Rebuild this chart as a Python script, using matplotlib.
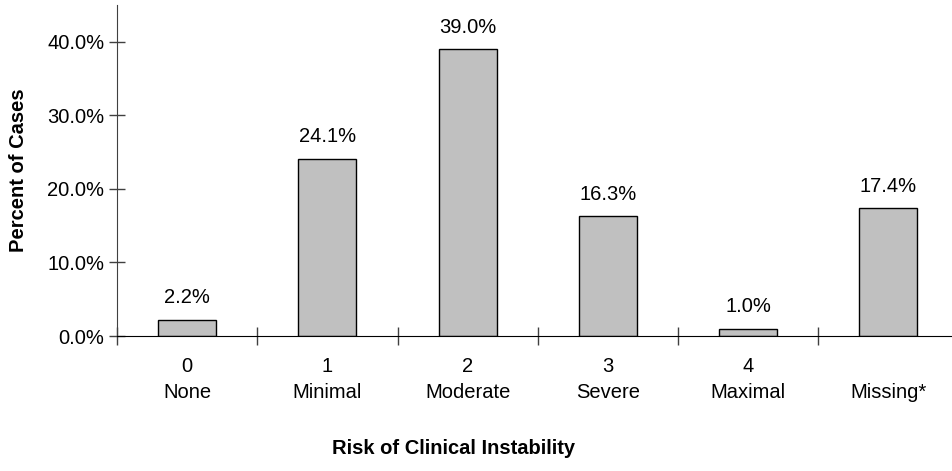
import matplotlib
matplotlib.use("Agg")
import matplotlib.pyplot as plt
from matplotlib.ticker import FuncFormatter, FixedLocator, NullFormatter

plt.rcParams['font.family'] = ['Liberation Sans', 'DejaVu Sans']

codes = ["0", "1", "2", "3", "4", ""]
names = ["None", "Minimal", "Moderate", "Severe", "Maximal", "Missing*"]
percents = [2.2, 24.1, 39.0, 16.3, 1.0, 17.4]
y_ticks = [0, 10, 20, 30, 40]

fig = plt.figure(figsize=(9.52, 4.71), dpi=100)
ax = fig.add_axes([117/952, 135/471, 841.5/952, 331/471])

x = list(range(len(names)))
bars = ax.bar(x, percents, width=0.414, color="#C0C0C0", edgecolor="black", linewidth=1.0)

for xi, v in zip(x, percents):
    ax.annotate(f"{v:.1f}%", (xi, v), xytext=(0, 9), textcoords="offset points",
                ha="center", va="bottom", fontsize=14.5)

ax.set_xlim(-0.5, len(names) - 0.5)
ax.set_ylim(0, 45)
ax.set_yticks(y_ticks)
ax.yaxis.set_major_formatter(FuncFormatter(lambda v, p: f"{v:.1f}%"))

labels = [f"{c}\n{n}" if c else f"\n{n}" for c, n in zip(codes, names)]
ax.set_xticks(x)
ax.set_xticklabels(labels, fontsize=14.5, linespacing=1.45)
ax.tick_params(axis="x", which="major", length=0, pad=15)
ax.xaxis.set_minor_locator(FixedLocator([i - 0.5 for i in range(len(names) + 1)]))
ax.xaxis.set_minor_formatter(NullFormatter())
ax.tick_params(axis="x", which="minor", direction="inout", length=13, width=1.0, color="#404040")
ax.tick_params(axis="y", which="major", direction="inout", length=12, width=1.0, color="#404040",
               labelsize=14.5, pad=3)

for s in ["top", "right"]:
    ax.spines[s].set_visible(False)
ax.spines["left"].set_color("#404040")
ax.spines["bottom"].set_color("black")

ax.set_ylabel("Percent of Cases", fontsize=14.5, fontweight="bold")
ax.yaxis.set_label_coords(-98/841.5, 0.5)
ax.set_xlabel("Risk of Clinical Instability", fontsize=14.5, fontweight="bold")
ax.xaxis.set_label_coords((454 - 117)/841.5, -(448 - 336)/331)
ax.xaxis.label.set_va("center")
ax.yaxis.label.set_va("center")

fig.savefig("out.png", dpi=100)
